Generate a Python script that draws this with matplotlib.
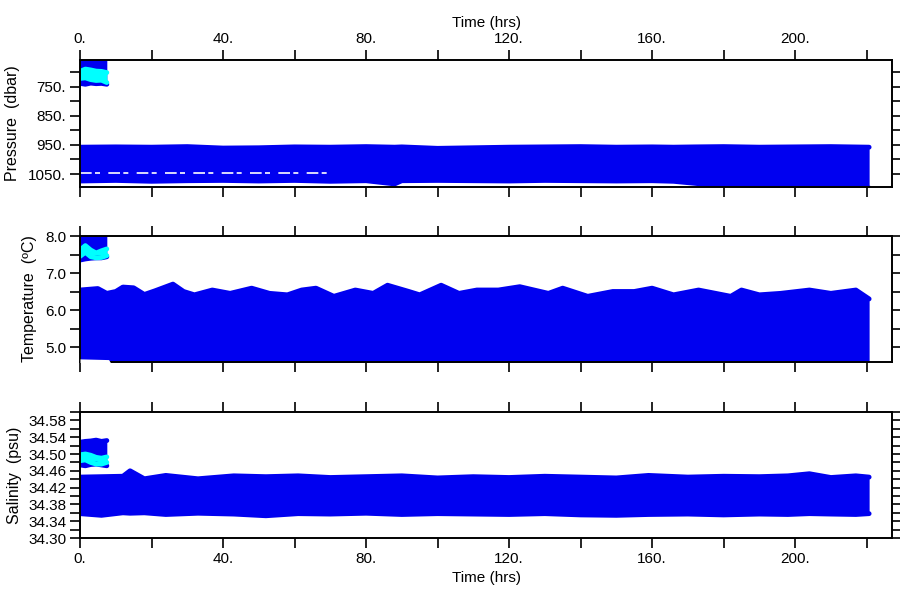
import matplotlib
matplotlib.use("Agg")
import matplotlib.pyplot as plt
from matplotlib.ticker import MultipleLocator, FuncFormatter

plt.rcParams['font.family'] = ['Liberation Sans', 'DejaVu Sans']

BLUE = '#0000f0'
CYAN = '#00ffff'

# first short record (0 - 7.5 hrs)
t_early = [0, 1.5, 3, 4.5, 6, 7.5]
p_early_top = [650, 650, 650, 650, 650, 650]
p_early_bot = [739, 742, 738, 740, 739, 742]
p_cyan_top = [698, 690, 693, 697, 698, 702]
p_cyan_bot = [722, 720, 726, 729, 728, 736]
temp_early_top = [8.1, 8.1, 8.1, 8.1, 8.1, 8.1]
temp_early_bot = [7.35, 7.38, 7.40, 7.41, 7.41, 7.44]
temp_cyan_top = [7.62, 7.74, 7.62, 7.54, 7.60, 7.65]
temp_cyan_bot = [7.45, 7.56, 7.44, 7.41, 7.42, 7.47]
sal_early_top = [34.528, 34.530, 34.531, 34.533, 34.530, 34.532]
sal_early_bot = [34.474, 34.472, 34.475, 34.476, 34.474, 34.472]
sal_cyan_top = [34.498, 34.500, 34.497, 34.492, 34.490, 34.493]
sal_cyan_bot = [34.484, 34.486, 34.480, 34.476, 34.476, 34.480]

# main record envelopes
p_t = [0, 10, 20, 30, 40, 50, 60, 70, 80, 88, 90, 100, 110, 120, 130, 140,
       150, 160, 166, 172, 180, 190, 200, 210, 220.7]
p_top = [958, 957, 958, 956, 961, 960, 957, 958, 956, 958, 957, 962, 960,
         958, 957, 956, 958, 957, 958, 957, 956, 958, 957, 956, 958]
p_bot = [1074, 1072, 1075, 1073, 1072, 1074, 1072, 1075, 1073, 1084, 1073,
         1072, 1073, 1074, 1072, 1073, 1074, 1073, 1075, 1082, 1092, 1096,
         1098, 1098, 1098]
p_gap_t = [0, 70]
p_gap = [1046, 1046]

temp_t = [0, 5, 7.5, 10, 12, 15, 18, 21, 26, 29, 32, 37, 42, 48, 53, 58, 62,
          66, 71, 77, 82, 86, 92, 95, 101, 106, 111, 117, 123, 131, 135, 142,
          149, 155, 160, 166, 173, 182, 185, 190, 196, 204, 210, 217, 220.7]
temp_top = [6.54, 6.58, 6.45, 6.50, 6.62, 6.60, 6.42, 6.52, 6.70, 6.50, 6.41,
            6.54, 6.45, 6.59, 6.45, 6.41, 6.54, 6.59, 6.37, 6.54, 6.45, 6.67,
            6.50, 6.41, 6.67, 6.45, 6.54, 6.54, 6.63, 6.45, 6.59, 6.37, 6.50,
            6.50, 6.59, 6.41, 6.54, 6.37, 6.54, 6.41, 6.45, 6.54, 6.45, 6.54,
            6.30]
temp_lo_t = [0, 8, 9, 220.7]
temp_bot = [4.68, 4.66, 4.50, 4.50]

sal_t = [0, 6, 12, 14, 18, 24, 33, 43, 52, 61, 70, 80, 90, 100, 110, 120,
         130, 140, 150, 159, 170, 180, 190, 198, 204, 210, 217, 220.7]
sal_top = [34.445, 34.446, 34.447, 34.460, 34.441, 34.449, 34.441, 34.448,
           34.446, 34.448, 34.444, 34.446, 34.448, 34.443, 34.446, 34.444,
           34.447, 34.445, 34.443, 34.449, 34.445, 34.447, 34.446, 34.448,
           34.453, 34.444, 34.448, 34.445]
sal_bot = [34.358, 34.354, 34.360, 34.359, 34.360, 34.356, 34.359, 34.357,
           34.353, 34.358, 34.357, 34.359, 34.356, 34.358, 34.357, 34.356,
           34.358, 34.355, 34.354, 34.356, 34.357, 34.355, 34.357, 34.356,
           34.358, 34.357, 34.356, 34.358]


def band(ax, t, lo, hi, color):
    ax.fill_between(t, lo, hi, color=color, lw=0)
    ax.plot(t, hi, color=color, lw=3.5, solid_capstyle='round',
            solid_joinstyle='round')
    ax.plot(t, lo, color=color, lw=3.5, solid_capstyle='round',
            solid_joinstyle='round')


fig = plt.figure(figsize=(9, 6), dpi=100)
left, width = 80 / 900, 812 / 900
ax1 = fig.add_axes([left, 1 - 187 / 600, width, 127 / 600])
ax2 = fig.add_axes([left, 1 - 362 / 600, width, 126 / 600])
ax3 = fig.add_axes([left, 1 - 538 / 600, width, 126 / 600])

# pressure
band(ax1, p_t, p_bot, p_top, BLUE)
ax1.plot(p_gap_t, p_gap, color='white', lw=1.2, dashes=(7, 2, 3, 5))
band(ax1, t_early, p_early_bot, p_early_top, BLUE)
band(ax1, t_early, p_cyan_bot, p_cyan_top, CYAN)
ax1.set_ylim(1094.6, 658.8)
ax1.yaxis.set_major_locator(MultipleLocator(100, offset=50))
ax1.yaxis.set_minor_locator(MultipleLocator(50))
ax1.yaxis.set_major_formatter(FuncFormatter(lambda v, p: f"{v:.0f}."))
ax1.set_ylabel("Pressure  (dbar)", fontsize=11.5, labelpad=6)

# temperature
band(ax2, temp_t, [4.5] * len(temp_t), temp_top, BLUE)
ax2.fill_between(temp_lo_t, 4.4, temp_bot, color='white', lw=0, zorder=3)
band(ax2, t_early, temp_early_bot, temp_early_top, BLUE)
band(ax2, t_early, temp_cyan_bot, temp_cyan_top, CYAN)
ax2.set_ylim(4.595, 8.0)
ax2.yaxis.set_major_locator(MultipleLocator(1.0))
ax2.yaxis.set_minor_locator(MultipleLocator(0.5))
ax2.yaxis.set_major_formatter(FuncFormatter(lambda v, p: f"{v:.1f}"))
ax2.set_ylabel("Temperature  (\u00baC)", fontsize=11.5, labelpad=6)

# salinity
band(ax3, sal_t, sal_bot, sal_top, BLUE)
band(ax3, t_early, sal_early_bot, sal_early_top, BLUE)
band(ax3, t_early, sal_cyan_bot, sal_cyan_top, CYAN)
ax3.set_ylim(34.30, 34.60)
ax3.set_yticks([34.30 + 0.04 * i for i in range(8)])
ax3.set_yticks([34.30 + 0.02 * i for i in range(16)], minor=True)
ax3.yaxis.set_major_formatter(FuncFormatter(lambda v, p: f"{v:.2f}"))
ax3.set_ylabel("Salinity  (psu)", fontsize=11.5, labelpad=4)

for ax in (ax1, ax2, ax3):
    ax.set_xlim(0, 227.1)
    ax.xaxis.set_major_locator(MultipleLocator(40))
    ax.xaxis.set_minor_locator(MultipleLocator(20))
    ax.xaxis.set_major_formatter(FuncFormatter(lambda v, p: f"{v:.0f}."))
    ax.tick_params(which='both', direction='out', length=7, width=1.2,
                   top=True, right=True, labelsize=11, pad=3,
                   labelbottom=False, labeltop=False)
    for s in ax.spines.values():
        s.set_linewidth(1.4)

ax1.tick_params(labeltop=True)
ax1.xaxis.set_label_position('top')
ax1.set_xlabel("Time (hrs)", fontsize=11, labelpad=4)
ax3.tick_params(labelbottom=True)
ax3.set_xlabel("Time (hrs)", fontsize=11, labelpad=4)

fig.savefig("out.png", dpi=100)
